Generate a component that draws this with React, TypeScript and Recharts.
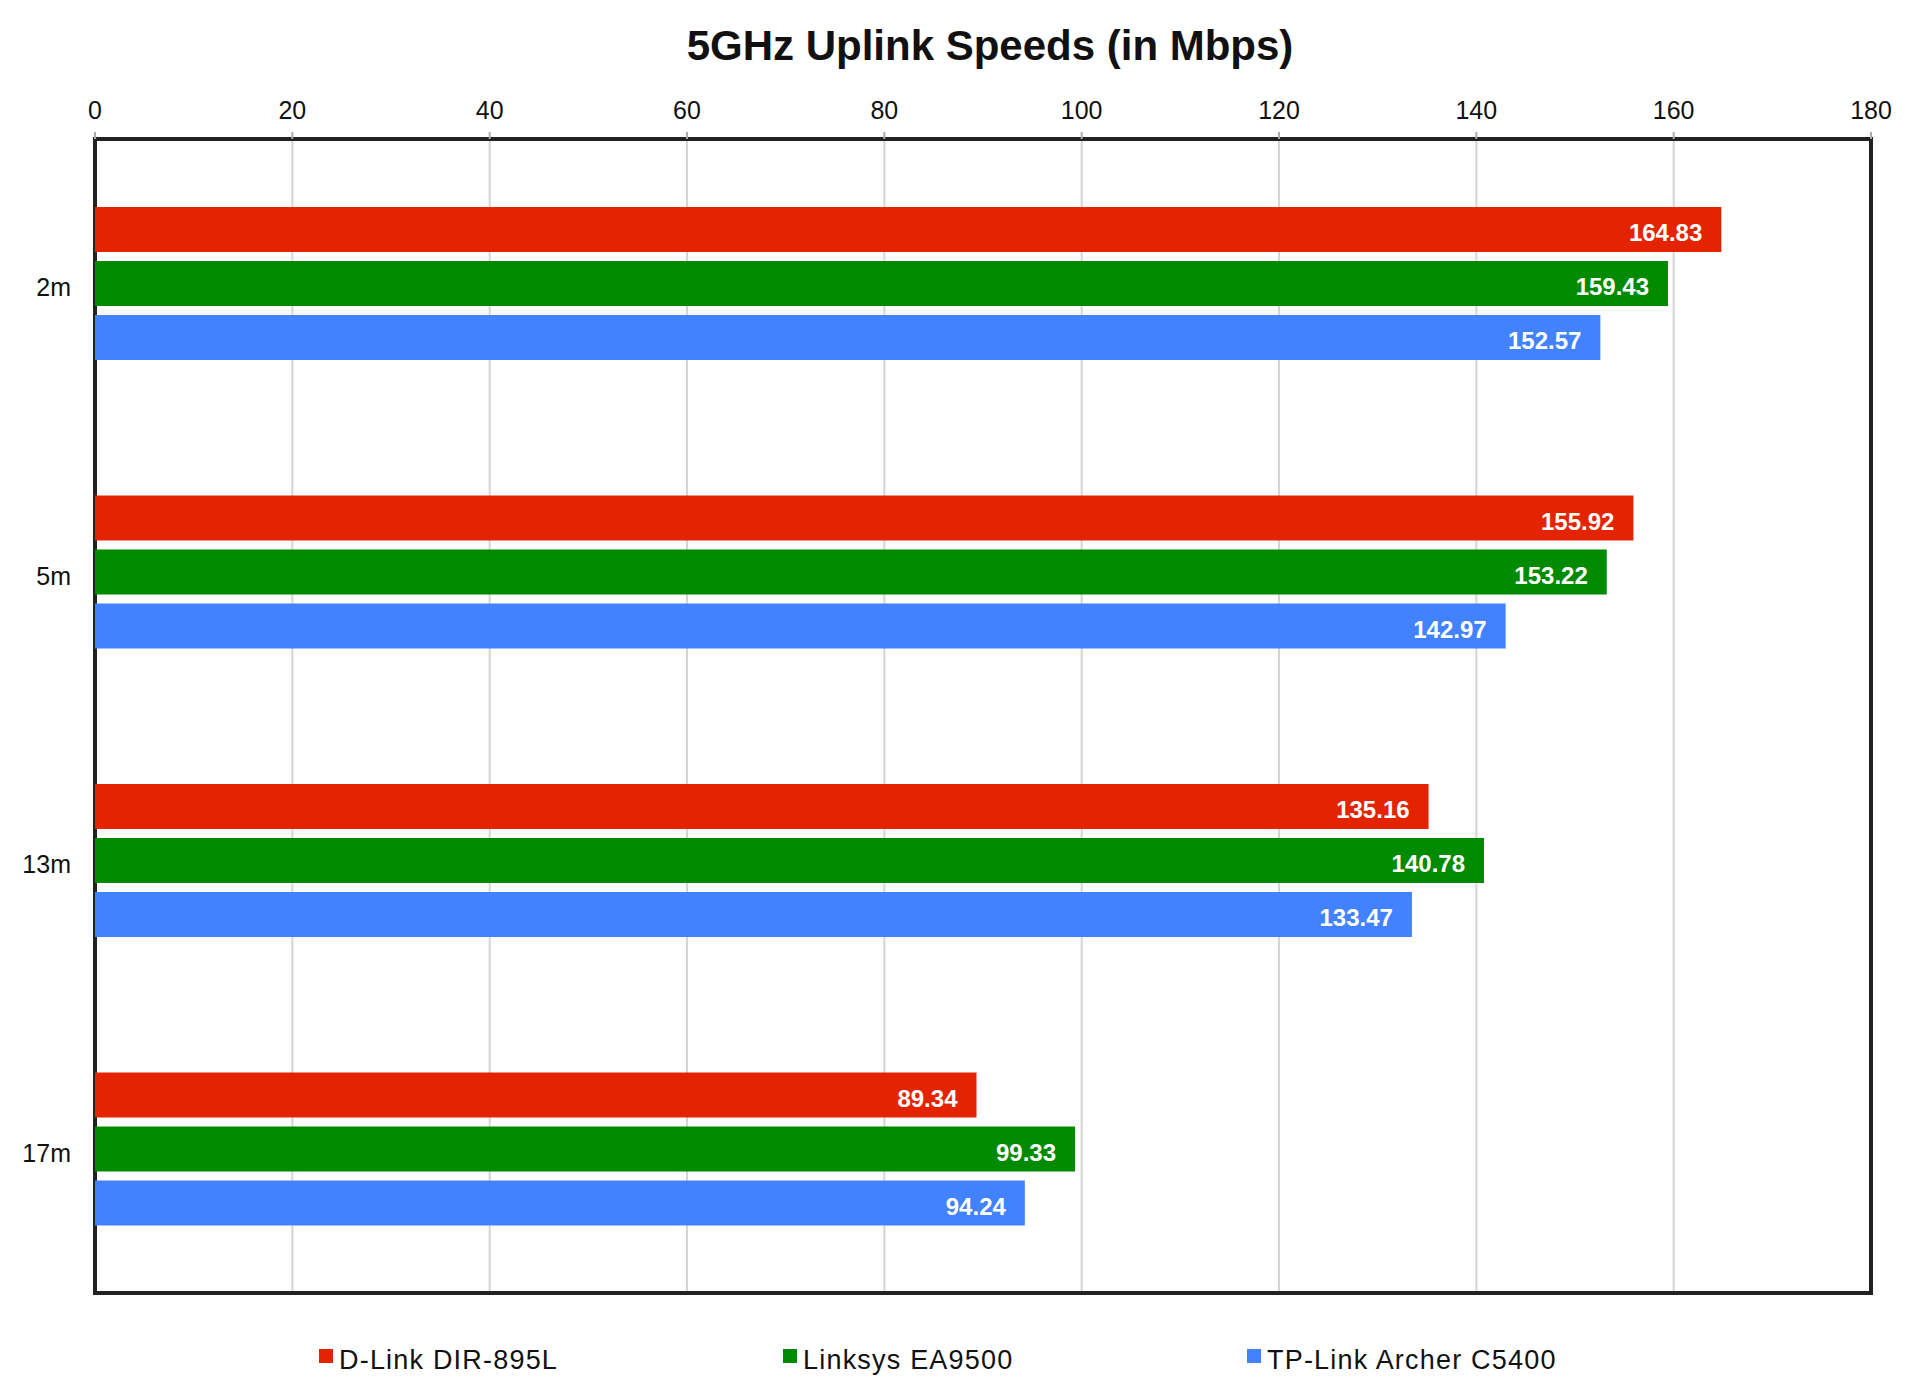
import {
  BarChart, Bar, XAxis, YAxis, CartesianGrid, LabelList, Legend, ReferenceArea
} from 'recharts';

const distances = ["2m", "5m", "13m", "17m"];
const dlink = [164.83, 155.92, 135.16, 89.34];
const linksys = [159.43, 153.22, 140.78, 99.33];
const tplink = [152.57, 142.97, 133.47, 94.24];
const xTicks = [0, 20, 40, 60, 80, 100, 120, 140, 160, 180];

const routers = [
  { key: "dlink", name: "D-Link DIR-895L", color: "#e42400" },
  { key: "linksys", name: "Linksys EA9500", color: "#008a00" },
  { key: "tplink", name: "TP-Link Archer C5400", color: "#4282ff" },
];

const data = distances.map((name, i) => ({
  name,
  dlink: dlink[i],
  linksys: linksys[i],
  tplink: tplink[i],
}));

const FONT = '"Liberation Sans", Arial, Helvetica, sans-serif';

const renderLegend = (props: any) => {
  const { payload } = props;
  return (
    <div style={{ display: "flex", paddingLeft: 319, fontFamily: FONT }}>
      {payload.map((entry: any) => (
        <div
          key={entry.value}
          style={{
            width: 464, display: "flex", alignItems: "center", fontSize: 27,
            lineHeight: "30px", letterSpacing: 1.2, color: "#111",
          }}
        >
          <span
            style={{
              display: "inline-block", width: 14, height: 14, background: entry.color,
              marginRight: 6, position: "relative", top: -4,
            }}
          />
          {entry.value}
        </div>
      ))}
    </div>
  );
};

const App = () => {
  return (
    <div style={{ position: "absolute", left: 0, top: 0, width: 1920, height: 1398, background: "#fff", fontFamily: FONT }}>
      <div
        style={{
          position: "absolute", top: 25, left: 490, width: 1000, textAlign: "center",
          fontSize: 42, lineHeight: "42px", fontWeight: "bold", color: "#111",
        }}
      >
        5GHz Uplink Speeds (in Mbps)
      </div>
      <BarChart
        width={1920}
        height={1398}
        data={data}
        layout="vertical"
        margin={{ top: 0, right: 49, bottom: 105, left: 0 }}
        barSize={45}
        barGap={9}
      >
        <CartesianGrid horizontal={false} stroke="#d4d4d4" strokeWidth={2} />
        <XAxis
          type="number"
          orientation="top"
          domain={[0, 180]}
          ticks={xTicks}
          height={139}
          axisLine={false}
          tickLine={{ stroke: "#aaa", strokeWidth: 2 }}
          tickSize={7}
          tickMargin={13}
          tick={{ fontSize: 25, fill: "#111", fontFamily: FONT }}
        />
        <YAxis
          type="category"
          dataKey="name"
          width={95}
          axisLine={false}
          tickLine={false}
          tickSize={0}
          tickMargin={24}
          tick={{ fontSize: 25, fill: "#111", fontFamily: FONT, dy: 4 }}
        />
        {routers.map((r) => (
          <Bar key={r.key} dataKey={r.key} name={r.name} fill={r.color} isAnimationActive={false}>
            <LabelList
              dataKey={r.key}
              position="insideRight"
              offset={19}
              dy={3}
              formatter={(v: any) => Number(v).toFixed(2)}
              style={{ fill: "#fff", fontSize: 24, fontWeight: "bold", fontFamily: FONT }}
            />
          </Bar>
        ))}
        <ReferenceArea x1={0} x2={180} fill="none" stroke="#222" strokeWidth={4} fillOpacity={0} />
        <Legend
          layout="horizontal"
          verticalAlign="middle"
          align="center"
          content={renderLegend}
          wrapperStyle={{ position: "absolute", top: 1345, left: 0, width: 1920 }}
        />
      </BarChart>
    </div>
  );
};

export default App;
